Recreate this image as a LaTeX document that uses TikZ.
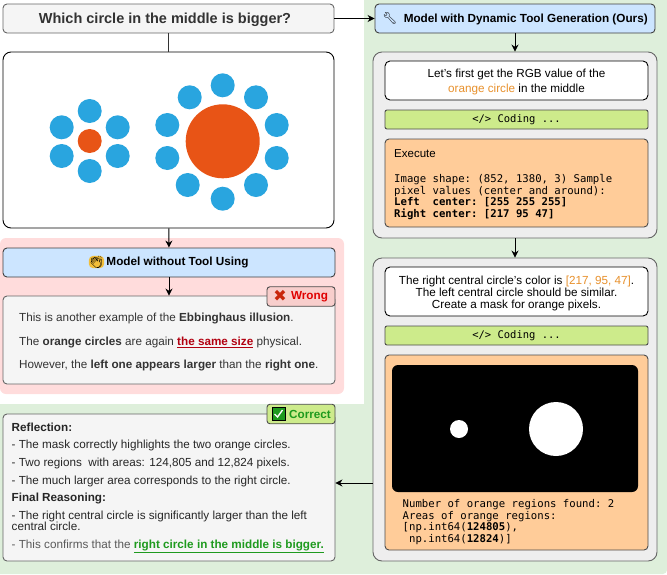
\documentclass[tikz,border=0pt]{standalone}
\usepackage{fontspec}
\setmainfont{Liberation Sans}
\setmonofont{DejaVu Sans Mono}
\newfontfamily\emojifont{Noto Emoji}
\newfontfamily\symfont{DejaVu Sans}
\usepackage{tikz}
\usetikzlibrary{arrows.meta,positioning,calc}
\usepackage{xcolor}
\definecolor{greenbg}{HTML}{DEEFDB}
\definecolor{pinkbg}{HTML}{FFDCDC}
\definecolor{greybox}{HTML}{F5F5F5}
\definecolor{panelgrey}{HTML}{EEEEEE}
\definecolor{bluehead}{HTML}{CCE5FF}
\definecolor{limebar}{HTML}{CDEB8B}
\definecolor{peach}{HTML}{FFCC99}
\definecolor{edgegrey}{HTML}{666666}
\definecolor{txtgrey}{HTML}{333333}
\definecolor{dotblue}{HTML}{29A5DF}
\definecolor{dotorange}{HTML}{E85416}
\definecolor{hlorange}{HTML}{E8912D}
\definecolor{wrongred}{HTML}{E00000}
\definecolor{darkred}{HTML}{B20010}
\definecolor{okgreen}{HTML}{1E9A1E}
\definecolor{tagpink}{HTML}{F8CECC}
\definecolor{clapyellow}{HTML}{F2BE3A}
\newcommand{\toppad}{\rule{0pt}{11.5pt}}

\begin{document}
\begin{tikzpicture}[
  x=1pt, y=-1pt,
  box/.style n args={3}{rectangle, draw=edgegrey, line width=0.9pt, fill=#1, minimum width=#2, minimum height=#3, inner sep=0pt, rounded corners=4pt, align=center},
  headbox/.style={box={bluehead}{280pt}{29pt}, draw=black!75, font=\fontsize{11.75}{14}\selectfont\bfseries},
  panel/.style={box={panelgrey}{284pt}{#1}, rounded corners=9pt},
  thought/.style={box={white}{263pt}{#1}, draw=black, rounded corners=5pt, font=\fontsize{11.7}{12}\selectfont},
  codebar/.style={box={limebar}{263pt}{19pt}, draw=black!70, rounded corners=2pt, font=\fontsize{10.5}{12}\ttfamily},
  result/.style={box={peach}{263pt}{#1}, draw=black!70},
  tag/.style={box={#1}{68pt}{19.5pt}, draw=black!70, rounded corners=3pt, font=\fontsize{11.7}{13}\selectfont\bfseries},
  para/.style={anchor=west, align=left, inner sep=0pt, font=\fontsize{11.7}{11}\selectfont},
  mono/.style={anchor=north west, align=left, inner sep=0pt, font=\fontsize{10.65}{11.7}\ttfamily},
  dot/.style={circle, fill=dotblue, minimum size=24pt, inner sep=0pt},
  arr/.style={-{Stealth[length=7pt,width=7pt]}, line width=0.9pt, black}
]
  % backgrounds
  \fill[greenbg] (364,0) -- (667,0) -- (667,570) arc[start angle=0, end angle=90, radius=4] -- (0,574) -- (0,404) -- (364,404) -- cycle;
  \fill[pinkbg, rounded corners=6pt] (0,238) -- (344,238) -- (344,394) -- (0,394) -- cycle;

  % left column
  \node[box={greybox}{331pt}{29pt}, font=\fontsize{14.5}{16}\selectfont\bfseries, text=txtgrey] (question) at (168.5,18.5) {\rule{0pt}{14pt}Which circle in the middle is bigger?\hspace*{7pt}};
  \node[box={white}{331pt}{176pt}, draw=black, rounded corners=8pt] (illusion) at (168.5,140) {};

  \node[circle, fill=dotorange, minimum size=24pt, inner sep=0pt] (leftc) at (89.7,141) {};
  \foreach \px/\py in {89.7/111, 61.7/127.3, 117.7/127.3, 61.7/156, 117.7/156, 89.7/171}
    \node[dot] at (\px,\py) {};
  \node[circle, fill=dotorange, minimum size=74pt, inner sep=0pt] (rightc) at (222.7,141.3) {};
  \foreach \px/\py in {222.7/85.3, 189.7/97.3, 256/97.3, 167.3/125, 276.7/125, 167.3/158, 276.7/158, 187.7/185, 256/185, 222.7/198.7}
    \node[dot] at (\px,\py) {};

  \node[headbox, minimum width=332pt] (notool) at (169,262.5) {\hspace*{17pt}Model without Tool Using};
  \node[rectangle, rounded corners=4pt, fill=clapyellow, inner sep=0pt, font=\fontsize{12}{12}\emojifont] (clap) at (96.5,262) {\char"1F44F};
  \node[box={greybox}{332pt}{88pt}] (wronganswer) at (169,340) {};
  \node[para, text=txtgrey] (wrongtext) at (19,342) {%
    This is another example of the \textbf{Ebbinghaus illusion}.\\[12.5pt]
    The \textbf{orange circles} are again \textcolor{darkred}{\textbf{\underline{the same size}}} physical.\\[12pt]
    However, the \textbf{left one appears larger} than the \textbf{right one}.};
  \node[tag={tagpink}, text=wrongred] (wrongtag) at (301,296.5) {\hspace*{17pt}Wrong};
  \node[inner sep=0pt, text=darkred!70!orange, font=\fontsize{16}{16}\symfont] (wrongx) at (280,296) {\char"2716};

  \node[box={greybox}{332pt}{147pt}] (rightanswer) at (169,487.5) {};
  \node[para, text=black!85] (righttext) at (11.5,488) {%
    \textbf{Reflection:}\\[6pt]
    - The mask correctly highlights the two orange circles.\\[7pt]
    - Two regions\ \ with areas: 124,805 and 12,824 pixels.\\[7pt]
    - The much larger area corresponds to the right circle.\\[6pt]
    \textbf{Final Reasoning:}\\[7pt]
    - The right central circle is significantly larger than the left\\
    central circle.\\[7pt]
    \textcolor{black!65}{- This confirms that the} \textcolor{okgreen}{\textbf{\underline{right circle in the middle is bigger.}}}};
  \node[tag={limebar}, text=okgreen] (righttag) at (301,414) {\hspace*{18pt}Correct};
  \node[rectangle, fill=okgreen, draw=black, line width=0.6pt, minimum size=13pt, inner sep=0pt] (checkmark) at (278.5,413.5) {};
  \draw[white, line width=1.4pt] (274.5,414) -- (277.5,417) -- (282.5,410);

  % right column
  \node[headbox] (withtool) at (515,18.5) {{\emojifont\char"1F527}\ \ Model with Dynamic Tool Generation (Ours)};
  \node[panel={186pt}] (panelone) at (515,145) {};
  \node[thought={39pt}] (askrgb) at (516.5,80.5) {\toppad Let's first get the RGB value of the\\[3pt]\textcolor{hlorange}{orange circle} in the middle};
  \node[codebar] (codeone) at (516.5,119.5) {</> Coding ...};
  \node[result={88pt}] (execone) at (516.5,183) {};
  \node[anchor=north west, inner sep=0pt, font=\fontsize{11.5}{13}\selectfont] (exectitle) at (394,149.5) {Execute};
  \node[mono] (execout) at (394,174) {Image shape: (852, 1380, 3) Sample\\pixel values (center and around):\\\textbf{Left\ \ center: [255 255 255]}\\\textbf{Right center: [217 95 47]}};

  \node[panel={303pt}] (paneltwo) at (515,409.5) {};
  \node[thought={49pt}] (askmask) at (516.5,291.5) {\toppad The right central circle's color is \textcolor{hlorange}{[217, 95, 47]}.\\The left central circle should be similar.\\Create a mask for orange pixels.};
  \node[codebar] (codetwo) at (516.5,335.5) {</> Coding ...};
  \node[result={195pt}] (exectwo) at (516.5,452.5) {};
  \node[rectangle, fill=black, rounded corners=6pt, minimum width=246pt, minimum height=127pt] (maskimg) at (515,428.5) {};
  \node[circle, fill=white, minimum size=18pt, inner sep=0pt] (maskleft) at (459,429) {};
  \node[circle, fill=white, minimum size=54pt, inner sep=0pt] (maskright) at (556,429) {};
  \node[mono] (regions) at (402.5,499) {Number of orange regions found: 2\\Areas of orange regions:\\{[}np.int64(\textbf{124805}),\\\ np.int64(\textbf{12824})]};

  % connectors
  \draw[line width=0.9pt, black!80] (question) -- (illusion);
  \draw[arr] (illusion) -- (notool);
  \draw[arr] (notool) -- (wronganswer);
  \draw[arr] (question.east) -- (withtool.west);
  \draw[arr] (withtool) -- (panelone);
  \draw[arr] (panelone) -- (paneltwo);
  \draw[arr] (paneltwo.west |- 0,483) -- (rightanswer.east |- 0,483);

  \useasboundingbox (0,0) rectangle (667,574);
\end{tikzpicture}
\end{document}
